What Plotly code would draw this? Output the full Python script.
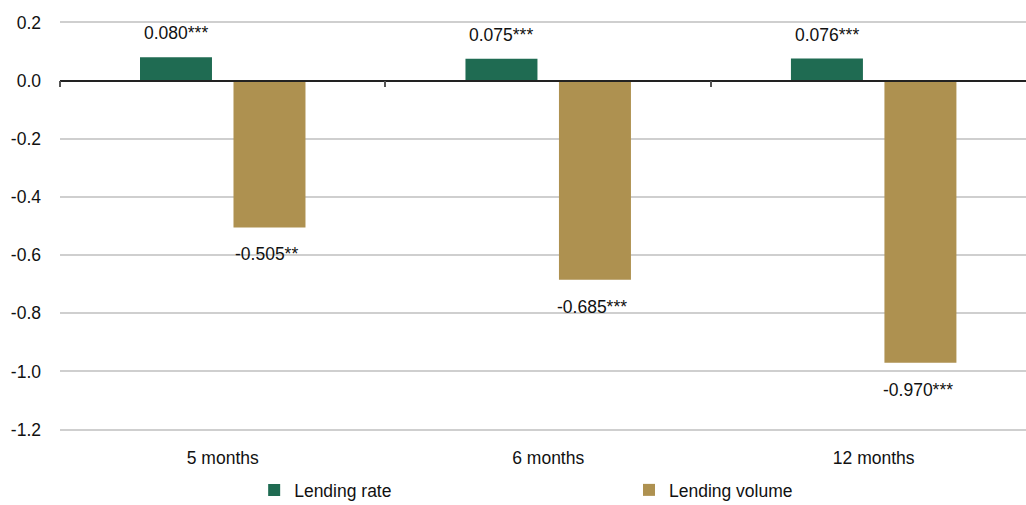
import plotly.graph_objects as go

categories = ["5 months", "6 months", "12 months"]
lending_rate = [0.080, 0.075, 0.076]
lending_rate_labels = ["0.080***", "0.075***", "0.076***"]
lending_volume = [-0.505, -0.685, -0.970]
lending_volume_labels = ["-0.505**", "-0.685***", "-0.970***"]
y_ticks = [0.2, 0.0, -0.2, -0.4, -0.6, -0.8, -1.0, -1.2]

GREEN = "#1f6b52"
GOLD = "#ae9150"
FONT = "Liberation Sans, Arial, sans-serif"
FS = 17.5

W, H = 1026, 505
ML, MR, MT, MB = 60, 0, 20.5, 73.5
y_range = [-1.205, 0.205]
zero_frac = (0 - y_range[0]) / (y_range[1] - y_range[0])
plot_h = H - MT - MB

fig = go.Figure()
fig.add_trace(go.Bar(name="Lending rate", x=categories, y=lending_rate,
                     marker=dict(color=GREEN, line=dict(width=0)), legend="legend"))
fig.add_trace(go.Bar(name="Lending volume", x=categories, y=lending_volume,
                     marker=dict(color=GOLD, line=dict(width=0)), legend="legend2"))

annotations = []
for c, v, t in zip(categories, lending_rate, lending_rate_labels):
    annotations.append(dict(x=c, y=v, text=t, showarrow=False, xref="x", yref="y",
                            xshift=-47, yshift=12, yanchor="bottom",
                            font=dict(family=FONT, size=FS, color="#111")))
for c, v, t in zip(categories, lending_volume, lending_volume_labels):
    annotations.append(dict(x=c, y=v, text=t, showarrow=False, xref="x", yref="y",
                            xshift=44, yshift=-15, yanchor="top",
                            font=dict(family=FONT, size=FS, color="#111")))

legend_common = dict(orientation="h", xanchor="left", y=-0.1, yanchor="top",
                     font=dict(family=FONT, size=FS, color="#111"),
                     itemwidth=30, bgcolor="rgba(0,0,0,0)")

fig.update_layout(
    width=W, height=H,
    margin=dict(l=ML, r=MR, t=MT, b=MB, autoexpand=False),
    paper_bgcolor="white", plot_bgcolor="white",
    font=dict(family=FONT, size=FS, color="#111"),
    barmode="group", bargap=0.4255, bargroupgap=0.23,
    showlegend=True,
    legend=dict(x=0.201, **legend_common),
    legend2=dict(x=0.589, **legend_common),
    annotations=annotations,
    xaxis=dict(range=[-0.5, 2.468], showgrid=False, zeroline=False,
               anchor="free", position=zero_frac,
               showline=True, linecolor="#222", linewidth=1.5,
               ticks="outside", tickson="boundaries", ticklen=6,
               tickwidth=1.5, tickcolor="#555",
               ticklabelstandoff=int(zero_frac * plot_h) + 11,
               tickfont=dict(family=FONT, size=FS), automargin=False),
    yaxis=dict(range=y_range, tickmode="array", tickvals=y_ticks,
               ticktext=[f"{v:.1f}" for v in y_ticks],
               showgrid=True, gridcolor="#cfcfcf", gridwidth=1.5,
               zeroline=False, showline=False, ticks="",
               ticklabelstandoff=18, automargin=False,
               tickfont=dict(family=FONT, size=FS)),
)

fig.write_html("out.html", config={"displayModeBar": False},
               post_script="document.body.style.margin='0';")
